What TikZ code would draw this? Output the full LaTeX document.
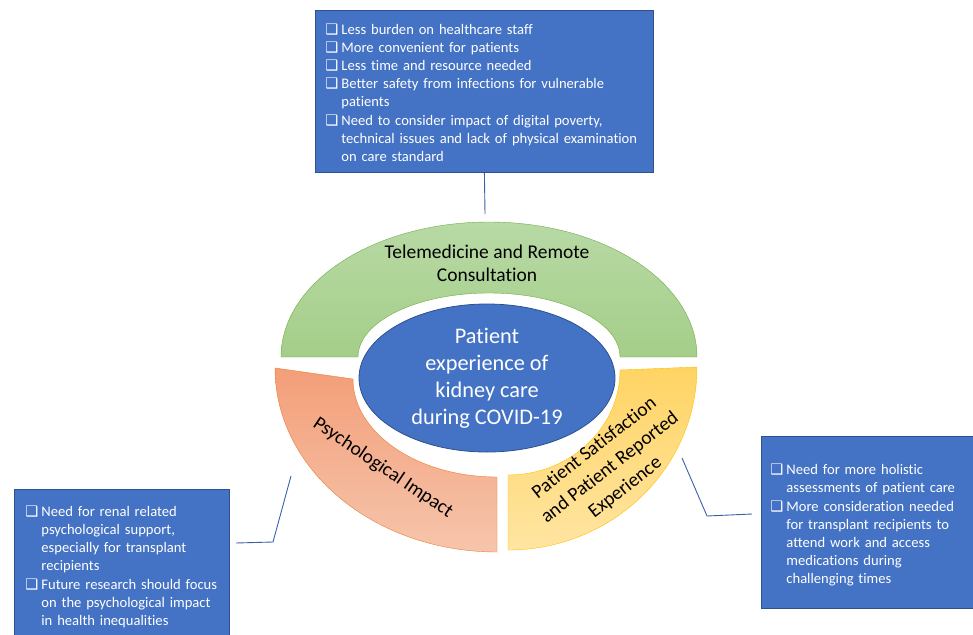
\documentclass[tikz,border=0pt]{standalone}
\usepackage{fontspec}
\setmainfont{Carlito}[Ligatures=NoCommon]
\newfontfamily\symfont{DejaVu Sans}
\usepackage{tikz}
\usetikzlibrary{calc, positioning, shapes.geometric}
\definecolor{boxblue}{RGB}{68,114,196}
\definecolor{boxedge}{RGB}{47,82,143}
\definecolor{greenedge}{RGB}{112,173,71}
\definecolor{greentop}{RGB}{184,217,165}
\definecolor{greenbot}{RGB}{164,206,136}
\definecolor{orangeedge}{RGB}{237,125,49}
\definecolor{orangetop}{RGB}{243,158,120}
\definecolor{orangebot}{RGB}{246,197,172}
\definecolor{yellowedge}{RGB}{255,192,0}
\definecolor{yellowtop}{RGB}{255,212,100}
\definecolor{yellowbot}{RGB}{255,229,162}

% bullet item: lines given with \\, never rewrapped
\newcommand{\bitem}[1]{\par\noindent\makebox[16pt][l]{\symfont\fontsize{14.5}{14.5}\selectfont ❑}\begin{tabular}[t]{@{}l@{}}#1\end{tabular}\par}

\begin{document}
\begin{tikzpicture}[x=1pt, y=-1pt]
    % Definindo os estilos
    \tikzstyle{notebox} = [rectangle, draw=boxedge, line width=0.8pt, fill=boxblue, text=white, align=left, anchor=north west, font=\fontsize{14.6}{18}\selectfont]
    \tikzstyle{ring_label} = [text=black, align=center, font=\fontsize{19.5}{25}\selectfont]
    \tikzstyle{hub} = [ellipse, draw=boxedge, line width=0.8pt, fill=boxblue, minimum width=256pt, minimum height=148pt, inner sep=0pt]
    \tikzstyle{hub_text} = [text=white, align=center, font=\fontsize{22.3}{27}\selectfont]
    \tikzstyle{link} = [draw, color=boxblue!85!black, line width=0.9pt]

    \useasboundingbox (0,0) rectangle (973,634);

    % Anel: telemedicina (verde)
    \path [draw=greenedge, top color=greentop, bottom color=greenbot]
        (281,357) arc[start angle=180, end angle=360, x radius=208, y radius=135]
        -- (620,357) arc[start angle=0, end angle=-180, x radius=131, y radius=64] -- cycle;
    % Anel: impacto psicologico (laranja)
    \path [draw=orangeedge, top color=orangetop, bottom color=orangebot]
        (275,368) arc[start angle=180, end angle=90, x radius=222, y radius=184]
        -- (497,477) arc[start angle=90, end angle=180, x radius=144, y radius=98] -- cycle;
    % Anel: satisfacao (amarelo)
    \path [draw=yellowedge, top color=yellowtop, bottom color=yellowbot]
        (508,550) arc[start angle=90, end angle=0, x radius=189, y radius=183]
        -- (620,370) arc[start angle=0, end angle=90, x radius=112, y radius=105] -- cycle;

    % Centro
    \node [hub] (hub) at (487,378) {};
    \node [hub_text] (hubText) at (hub) {Patient\\experience of\\kidney care\\during COVID-19};

    % Rotulos do anel
    \node [ring_label, font=\fontsize{19.5}{23}\selectfont] (teleLabel) at (487,263) {Telemedicine and Remote\\Consultation};
    \node [ring_label, rotate=-34] (psyLabel) at (383,468) {Psychological Impact};
    \node [ring_label, rotate=38] (satLabel) at (610,468) {Patient Satisfaction\\and Patient Reported\\Experience};

    % Caixas de notas
    \node [notebox, text width=318pt, minimum height=162pt, inner xsep=10pt] (teleBox) at (315,10) {%
        \bitem{Less burden on healthcare staff}
        \bitem{More convenient for patients}
        \bitem{Less time and resource needed}
        \bitem{Better safety from infections for vulnerable\\patients}
        \bitem{Need to consider impact of digital poverty,\\technical issues and lack of physical examination\\on care standard}};
    \node [notebox, text width=194pt, minimum height=172pt, inner xsep=9pt] (satBox) at (761,436) {%
        \bitem{Need for more holistic\\assessments of patient care}
        \bitem{More consideration needed\\for transplant recipients to\\attend work and access\\medications during\\challenging times}};
    \node [notebox, text width=193pt, minimum height=150pt, inner xsep=11pt] (psyBox) at (14,489) {%
        \bitem{Need for renal related\\psychological support,\\especially for transplant\\recipients}
        \bitem{Future research should focus\\on the psychological impact\\in health inequalities}};

    % Conectores
    \coordinate (teleTip) at (485,214);
    \coordinate (psyFoot) at (236,543);
    \coordinate (psyKnee) at (273,542);
    \coordinate (psyTip) at (291,476);
    \coordinate (satFoot) at (752,514);
    \coordinate (satKnee) at (707,516);
    \coordinate (satTip) at (682,458);

    \path [link] (teleBox.south) -- (teleTip);
    \path [link] (psyFoot) -- (psyKnee) -- (psyTip);
    \path [link] (satFoot) -- (satKnee) -- (satTip);
\end{tikzpicture}
\end{document}
